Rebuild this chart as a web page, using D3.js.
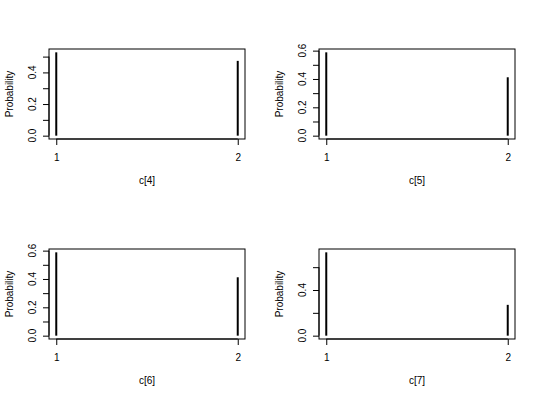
<!DOCTYPE html>
<html>
<head>
<meta charset="utf-8">
<script src="https://cdn.jsdelivr.net/npm/d3@7"></script>
<style>
  html, body { margin: 0; padding: 0; background: #fff; }
  svg { display: block; }
  text { font-family: "Liberation Sans", Arial, Helvetica, sans-serif; font-size: 10px; fill: #000; }
</style>
</head>
<body>
<svg id="chart" width="540" height="400"></svg>
<script>
// ---- data ----
const panelTitles = ["c[4]", "c[5]", "c[6]", "c[7]"];
const categories = [1, 2];
const probC4 = [0.527, 0.473];
const probC5 = [0.588, 0.412];
const probC6 = [0.588, 0.412];
const probC7 = [0.73, 0.27];
const yTicksC4 = [0, 0.1, 0.2, 0.3, 0.4, 0.5];
const yTicksC5 = [0, 0.1, 0.2, 0.3, 0.4, 0.5, 0.6];
const yTicksC6 = [0, 0.1, 0.2, 0.3, 0.4, 0.5, 0.6];
const yTicksC7 = [0, 0.2, 0.4, 0.6];
const yLabelsC4 = [0, 0.2, 0.4];
const yLabelsC5 = [0, 0.2, 0.4, 0.6];
const yLabelsC6 = [0, 0.2, 0.4, 0.6];
const yLabelsC7 = [0, 0.4];
const yAxisTitle = "Probability";

(function () {
const panels = [
  { title: panelTitles[0], values: probC4, ticks: yTicksC4, labels: yLabelsC4 },
  { title: panelTitles[1], values: probC5, ticks: yTicksC5, labels: yLabelsC5 },
  { title: panelTitles[2], values: probC6, ticks: yTicksC6, labels: yLabelsC6 },
  { title: panelTitles[3], values: probC7, ticks: yTicksC7, labels: yLabelsC7 }
];

// ---- layout ----
const cellW = 270, cellH = 200;
const mLeft = 49, mRight = 245, mTop = 49, mBottom = 139;
const tickLen = 6;

const svg = d3.select("#chart");

panels.forEach((p, i) => {
  const col = i % 2, row = Math.floor(i / 2);
  const g = svg.append("g").attr("transform", `translate(${col * cellW},${row * cellH})`);

  const ymax = d3.max(p.values);
  const x = d3.scaleLinear().domain([1 - 0.04, 2 + 0.04]).range([mLeft, mRight]);
  const y = d3.scaleLinear().domain([-0.04 * ymax, 1.04 * ymax]).range([mBottom, mTop]);

  // bars (type = "h")
  g.selectAll("line.bar").data(categories).enter().append("line")
    .attr("class", "bar")
    .attr("x1", d => x(d)).attr("x2", d => x(d))
    .attr("y1", y(0)).attr("y2", (d, j) => y(p.values[j]))
    .attr("stroke", "#000").attr("stroke-width", 2);

  // box
  g.append("rect")
    .attr("x", mLeft).attr("y", mTop)
    .attr("width", mRight - mLeft).attr("height", mBottom - mTop)
    .attr("fill", "none").attr("stroke", "#000").attr("stroke-width", 1);

  // x axis
  const xAxis = d3.axisBottom(x).tickValues(categories).tickFormat(d3.format("d"))
    .tickSize(tickLen).tickPadding(9);
  const gx = g.append("g").attr("transform", `translate(0,${mBottom})`).call(xAxis);
  gx.select(".domain").attr("d", `M${x(1)},0H${x(2)}`).attr("stroke", "#000");
  gx.selectAll(".tick line").attr("stroke", "#000");
  gx.selectAll(".tick text").attr("font-size", 10).attr("font-family", null).attr("fill", "#000");

  // y axis
  const yAxis = d3.axisLeft(y).tickValues(p.ticks).tickFormat(() => "").tickSize(tickLen);
  const gy = g.append("g").attr("transform", `translate(${mLeft},0)`).call(yAxis);
  const t0 = d3.min(p.ticks), t1 = d3.max(p.ticks);
  gy.select(".domain").attr("d", `M0,${y(t0)}V${y(t1)}`).attr("stroke", "#000");
  gy.selectAll(".tick line").attr("stroke", "#000");

  // y tick labels (parallel to axis)
  g.selectAll("text.ylab").data(p.labels).enter().append("text")
    .attr("class", "ylab")
    .attr("transform", d => `translate(${mLeft - 13},${y(d)}) rotate(-90)`)
    .attr("text-anchor", "middle")
    .text(d => d3.format(".1f")(d));

  // axis titles
  g.append("text")
    .attr("x", (mLeft + mRight) / 2).attr("y", 184)
    .attr("text-anchor", "middle")
    .text(p.title);
  g.append("text")
    .attr("transform", `translate(12.5,${(mTop + mBottom) / 2}) rotate(-90)`)
    .attr("text-anchor", "middle")
    .text(yAxisTitle);
});
})();
</script>
</body>
</html>
